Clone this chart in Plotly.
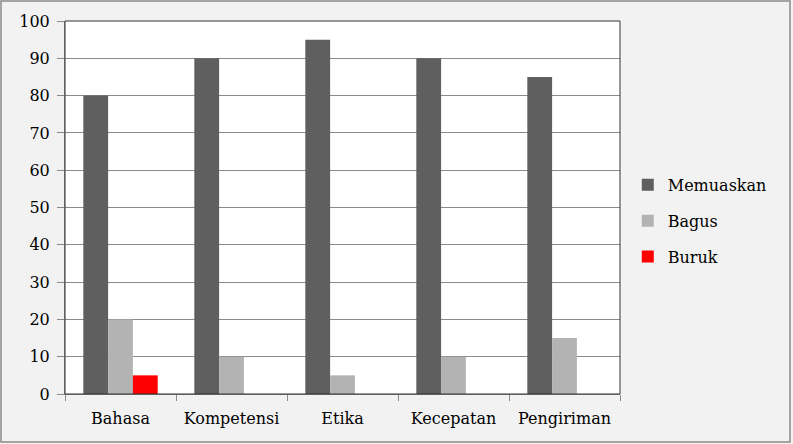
import plotly.graph_objects as go

categories = ["Bahasa", "Kompetensi", "Etika", "Kecepatan", "Pengiriman"]
memuaskan = [80, 90, 95, 90, 85]
bagus = [20, 10, 5, 10, 15]
buruk = [5, 0, 0, 0, 0]
series_names = ["Memuaskan", "Bagus", "Buruk"]
series_colors = ["#5f5f5f", "#b3b3b3", "#ff0000"]
y_ticks = list(range(0, 101, 10))

W, H = 793, 444
ML, MR, MT, MB = 65, 173, 21, 50
FONT = "DejaVu Serif"

fig = go.Figure()
for name, vals, col in zip(series_names, [memuaskan, bagus, buruk], series_colors):
    fig.add_trace(go.Bar(x=categories, y=vals, name=name, marker=dict(color=col, line=dict(width=0)),
                         legendgroup=name))

fig.update_layout(
    width=W, height=H,
    margin=dict(l=ML, r=MR, t=MT, b=MB, pad=0),
    paper_bgcolor="#f2f2f2",
    plot_bgcolor="#ffffff",
    barmode="group",
    bargap=0.33,
    bargroupgap=0,
    font=dict(family=FONT, size=16, color="#000000"),
    legend=dict(x=1.014, y=0.464, xanchor="left", yanchor="middle", bgcolor="rgba(0,0,0,0)",
                tracegroupgap=12, font=dict(size=16), itemwidth=30),
    showlegend=True,
)
fig.update_yaxes(range=[0, 100], tickvals=y_ticks, showgrid=True, gridcolor="#8a8a8a", gridwidth=1,
                 ticks="outside", ticklen=7, tickcolor="#8a8a8a", showline=True, linecolor="#8a8a8a",
                 mirror=False, zeroline=False, ticklabelstandoff=4)
fig.update_xaxes(ticks="outside", ticklen=6, tickcolor="#8a8a8a", showline=True, linecolor="#8a8a8a",
                 tickson="boundaries", ticklabelstandoff=10)
# plot area border
fig.add_shape(type="rect", xref="paper", yref="paper", x0=0, y0=0, x1=1, y1=1,
              line=dict(color="#333333", width=1), fillcolor="rgba(0,0,0,0)", layer="above")
# outer chart border
pw, ph = W - ML - MR, H - MT - MB
fig.add_shape(type="rect", xref="paper", yref="paper",
              x0=(1 - ML) / pw, x1=(W - 3 - ML) / pw,
              y0=-(H - 2 - MT - ph) / ph, y1=(ph + MT - 1) / ph,
              line=dict(color="#8a8a8a", width=1.5), fillcolor="rgba(0,0,0,0)")
fig.write_html("out.html")
